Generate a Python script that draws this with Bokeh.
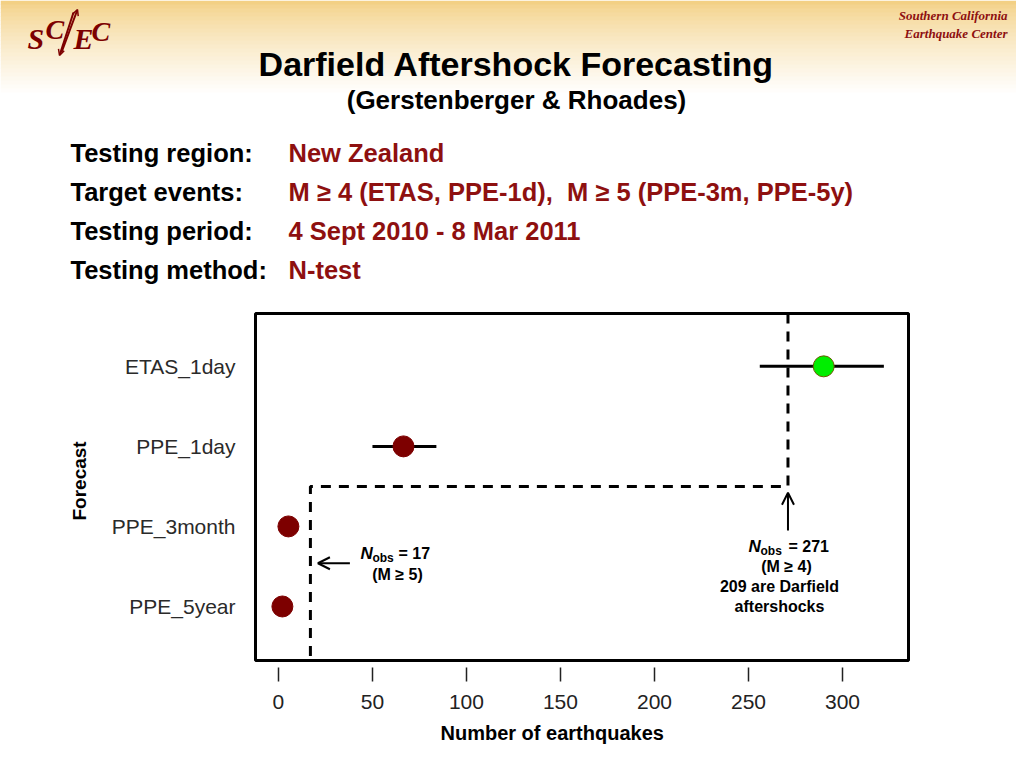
from bokeh.plotting import figure
from bokeh.models import (Label, Arrow, OpenHead, FixedTicker, Range1d,
                          ColumnDataSource, Title)
from bokeh.embed import file_html
from bokeh.resources import INLINE
from bokeh.core.properties import value

# ---------------- data ----------------
forecasts = ["ETAS_1day", "PPE_1day", "PPE_3month", "PPE_5year"]
expected = [290.0, 66.5, 5.3, 2.1]
low_95 = [256.0, 50.0, float("nan"), float("nan")]
high_95 = [322.0, 84.0, float("nan"), float("nan")]
consistent = [True, False, False, False]
n_obs_m4 = 271
n_obs_m5 = 17
x_ticks = [0, 50, 100, 150, 200, 250, 300]

info_keys = ["Testing region:", "Target events:", "Testing period:", "Testing method:"]
info_vals = ["New Zealand",
             "M \u2265 4 (ETAS, PPE-1d),\u00a0 M \u2265 5 (PPE-3m, PPE-5y)",
             "4 Sept 2010 - 8 Mar 2011", "N-test"]

# ---------------- styling ----------------
FONT = "Liberation Sans"
SERIF = "Liberation Serif"
DARKRED = "#8E1010"
MAROON = "#7D0000"

W = 1008
WH = 1016                # header width
HH = 300                 # header height
H = 752 - HH             # chart figure height
FL, FR, FT, FB = 255, 908, 313, 660   # frame edges in page pixels

# ================= header figure =================
hdr = figure(width=WH, height=HH, output_backend="svg", toolbar_location=None,
             x_range=Range1d(0, WH), y_range=Range1d(HH, 0),
             x_axis_type=None, y_axis_type=None, min_border=0)
hdr.grid.visible = False
hdr.outline_line_color = None
hdr.background_fill_color = "white"
hdr.border_fill_color = "white"

top_c = (243, 208, 132)
n_b = 24
band_top, band_bot, band_col = [], [], []
for i in range(n_b):
    t = i / (n_b - 1)
    c = tuple(int(round(a + (255 - a) * t ** 0.75)) for a in top_c)
    band_top.append(i * 4)
    band_bot.append(i * 4 + 4.6)
    band_col.append("#%02x%02x%02x" % c)
hdr.quad(left=0, right=WH, top=band_top, bottom=band_bot, fill_color=band_col,
         line_color=None)


def htext(x, y, text, size, color="black", style="bold", align="left", font=FONT):
    hdr.text(x=[x], y=[y], text=[text], text_font=value(font),
             text_font_size=size, text_font_style=style, text_color=color,
             text_align=align, text_baseline="middle")


htext(516, 63, "Darfield Aftershock Forecasting", "34px", align="center")
htext(516, 99, "(Gerstenberger & Rhoades)", "26px", align="center")
row_y = [152, 191, 230, 269]
for yy, k, v in zip(row_y, info_keys, info_vals):
    htext(70, yy, k, "25.5px")
    htext(288, yy, v, "25.5px", color=DARKRED)

htext(1007, 15, "Southern California", "13px", color=DARKRED,
      style="bold italic", align="right", font=SERIF)
htext(1007, 33, "Earthquake Center", "13px", color=DARKRED,
      style="bold italic", align="right", font=SERIF)

# logo
htext(27, 38, "S", "30px", color=MAROON, style="bold italic", font=SERIF)
htext(45, 29, "C", "28px", color=MAROON, style="bold italic", font=SERIF)
htext(73, 38, "E", "30px", color=MAROON, style="bold italic", font=SERIF)
htext(91, 31, "C", "28px", color=MAROON, style="bold italic", font=SERIF)
hdr.add_layout(Arrow(end=OpenHead(size=6, line_width=1.5, line_color=MAROON),
                     x_start=61, y_start=52, x_end=77, y_end=9,
                     line_color=MAROON, line_width=2))
hdr.add_layout(Arrow(end=OpenHead(size=6, line_width=1.5, line_color=MAROON),
                     x_start=73, y_start=12, x_end=59, y_end=55,
                     line_color=MAROON, line_width=2))

# ================= chart figure =================
ypos = [4, 3, 2, 1]
colors = ["#00EE00" if c else MAROON for c in consistent]
lines = ["#6B5A00" if c else MAROON for c in consistent]

p = figure(width=W, height=H, output_backend="svg", toolbar_location=None,
           x_range=Range1d(-12.2, 335.1), y_range=Range1d(0.325, 4.66),
           min_border_left=FL, min_border_right=W - FR,
           min_border_top=FT - HH, min_border_bottom=752 - FB)
p.grid.visible = False
p.outline_line_color = "black"
p.outline_line_width = 3
p.background_fill_color = "white"
p.border_fill_color = "white"

# x axis
p.xaxis.ticker = FixedTicker(ticks=x_ticks)
p.xaxis.axis_line_color = None
p.xaxis.major_tick_in = -7
p.xaxis.major_tick_out = 21
p.xaxis.major_tick_line_width = 1.5
p.xaxis.major_tick_line_color = "#222222"
p.xaxis.minor_tick_line_color = None
p.xaxis.major_label_standoff = 13
p.xaxis.major_label_text_font = FONT
p.xaxis.major_label_text_font_size = "21px"
p.xaxis.major_label_text_color = "#222222"

# y axis
p.yaxis.ticker = FixedTicker(ticks=ypos)
p.yaxis.major_label_overrides = {y: f for y, f in zip(ypos, forecasts)}
p.yaxis.axis_line_color = None
p.yaxis.major_tick_line_color = None
p.yaxis.minor_tick_line_color = None
p.yaxis.major_label_standoff = 14
p.yaxis.major_label_text_font = FONT
p.yaxis.major_label_text_font_size = "21px"
p.yaxis.major_label_text_color = "#2a2a2a"

p.add_layout(Title(text="Forecast", align="left", offset=140,
                   text_font=FONT, text_font_size="19px", text_font_style="bold",
                   text_color="black", standoff=38), "left")
p.add_layout(Title(text="Number of earthquakes", align="left", offset=185,
                   text_font=FONT, text_font_size="20px", text_font_style="bold",
                   text_color="black", standoff=16), "below")

src = ColumnDataSource(dict(y=ypos, e=expected, lo=low_95, hi=high_95,
                            fc=colors, lc=lines))
p.segment(x0="lo", x1="hi", y0="y", y1="y", source=src, line_color="black",
          line_width=3)
p.scatter(x="e", y="y", source=src, size=21, fill_color="fc", line_color="lc",
          line_width=1)

# observed-number step line
yr = p.y_range
p.line(x=[n_obs_m4, n_obs_m4, n_obs_m5, n_obs_m5],
       y=[yr.end, 2.5, 2.5, yr.start], line_color="black", line_width=3,
       line_dash="10 8")

p.add_layout(Arrow(end=OpenHead(size=12, line_width=2), x_start=n_obs_m4, y_start=1.95,
                   x_end=n_obs_m4, y_end=2.42, line_width=2))
p.add_layout(Arrow(end=OpenHead(size=12, line_width=2), x_start=38, y_start=1.54,
                   x_end=21, y_end=1.54, line_width=2))


def dx(px):
    return (px - 278) / 1.88


def dy(py):
    return 1 + (606 - py) / 80.0


def dlabel(px, py, text, size, style="bold", align="left"):
    p.add_layout(Label(x=dx(px), y=dy(py), text=text, text_font=FONT,
                       text_font_size=size, text_font_style=style,
                       text_align=align, text_baseline="middle", text_color="black"))


dlabel(360, 553, "N", "17px", "bold italic")
dlabel(372, 558, "obs", "12px")
dlabel(398, 553, "= " + str(n_obs_m5), "16px")
dlabel(397, 574, "(M \u2265 5)", "16px", align="center")

dlabel(748, 546, "N", "17px", "bold italic")
dlabel(760, 551, "obs", "12px")
dlabel(788, 546, "= " + str(n_obs_m4), "16px")
dlabel(786, 566, "(M \u2265 4)", "16px", align="center")
dlabel(779, 586, "209 are Darfield", "16px", align="center")
dlabel(779, 606, "aftershocks", "16px", align="center")

open("out.html", "w").write(file_html([hdr, p], INLINE))
